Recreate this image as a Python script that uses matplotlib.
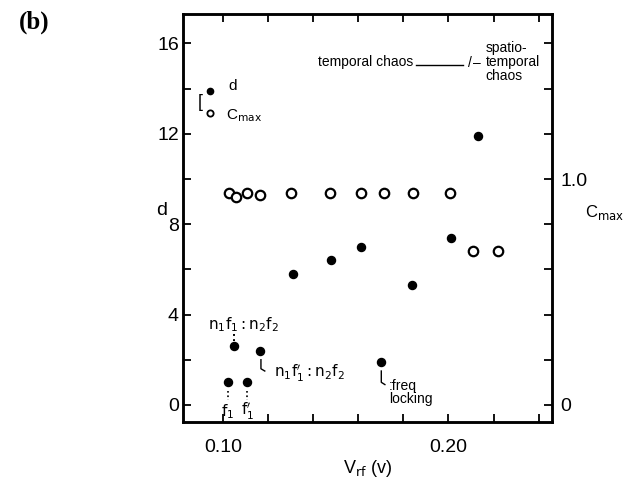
import matplotlib
matplotlib.use("Agg")
import matplotlib.pyplot as plt

# d (filled circles) vs V_rf
d_x = [0.102, 0.105, 0.1107, 0.1166, 0.131, 0.148, 0.161, 0.170, 0.184, 0.201, 0.213]
d_y = [1.0, 2.6, 1.0, 2.4, 5.8, 6.4, 7.0, 1.9, 5.3, 7.4, 11.9]

# Cmax (open circles) vs V_rf
cmax_x = [0.1027, 0.1058, 0.1107, 0.1164, 0.130, 0.1476, 0.161, 0.1716, 0.1844, 0.2009, 0.2107, 0.2218]
cmax_y = [0.94, 0.92, 0.94, 0.93, 0.94, 0.94, 0.94, 0.94, 0.94, 0.94, 0.68, 0.68]

x_ticks = [0.10, 0.20]
x_ticklabels = ["0.10", "0.20"]
d_ticks = [0, 4, 8, 12, 16]
c_ticks = [0, 1.0]
c_ticklabels = ["0", "1.0"]

plt.rcParams["font.family"] = ["Liberation Sans", "DejaVu Sans"]

fig = plt.figure(figsize=(6.42, 4.86), dpi=100)
ax = fig.add_axes([0.285, 0.132, 0.575, 0.839])
ax2 = ax.twinx()

ax.plot(d_x, d_y, "o", color="black", markersize=5.8, zorder=3)
ax2.plot(cmax_x, cmax_y, "o", mfc="white", mec="black", mew=1.6, markersize=6.8, zorder=3)

ax.set_xlim(0.0822, 0.246)
ax.set_ylim(-0.75, 17.3)
ax2.set_ylim(-0.075, 1.73)

ax.set_xticks(x_ticks)
ax.set_xticklabels(x_ticklabels)
ax.set_xticks([0.12, 0.14, 0.16, 0.18, 0.22, 0.24], minor=True)
ax.set_yticks(d_ticks)
ax.set_yticks([2, 6, 10, 14], minor=True)
ax2.set_yticks(c_ticks)
ax2.set_yticklabels(c_ticklabels)
ax2.set_yticks([0.2, 0.4, 0.6, 0.8, 1.2, 1.4, 1.6], minor=True)

for a in (ax, ax2):
    for s in a.spines.values():
        s.set_linewidth(1.8)
    a.tick_params(which="both", direction="in", width=1.3, labelsize=14)
    a.tick_params(which="major", length=6)
    a.tick_params(which="minor", length=6)
ax.tick_params(axis="x", which="both", top=True, pad=12)
ax.tick_params(axis="y", pad=3)
ax2.tick_params(axis="y", pad=6)

ax.set_xlabel(r"V$_{\rm rf}$ (v)", fontsize=13, labelpad=2)
fig.text(0.252, 0.567, "d", fontsize=14, ha="center", va="center")
fig.text(0.911, 0.563, r"C$_{\rm max}$", fontsize=12, ha="left", va="center")
fig.text(0.03, 0.955, "(b)", fontsize=18, family="Liberation Serif", fontweight="bold",
         ha="left", va="center")

# legend drawn by hand like in the original
ax.plot([0.0942], [13.9], "o", color="black", markersize=4.5)
ax.plot([0.0942], [12.9], "o", mfc="white", mec="black", mew=1.3, markersize=4.5)
ax.text(0.0898, 13.4, "[", fontsize=13, ha="center", va="center")
ax.text(0.1025, 14.1, "d", fontsize=11, ha="left", va="center")
ax.text(0.1015, 12.8, r"C$_{\rm max}$", fontsize=11, ha="left", va="center")

# regime labels
ax.text(0.1845, 15.2, "temporal chaos", fontsize=10, ha="right", va="center")
ax.plot([0.1855, 0.2065], [15.05, 15.05], color="black", lw=1)
ax.text(0.2095, 15.15, "/", fontsize=10, ha="center", va="center")
ax.text(0.2125, 15.15, "\u2013", fontsize=10, ha="center", va="center")
ax.text(0.2165, 15.2, "spatio-\ntemporal\nchaos", fontsize=10, ha="left", va="center",
        linespacing=1.0)

# annotations
ax.text(0.0933, 3.55, r"$\mathrm{n_1f_1 : n_2f_2}$", fontsize=11, ha="left", va="center")
ax.plot([0.105, 0.105], [3.15, 2.85], ls=":", color="black", lw=1.4)
ax.plot([0.1168, 0.1168, 0.1185], [2.0, 1.6, 1.5], color="black", lw=1)
ax.text(0.1225, 1.4, r"$\mathrm{n_1f_1' : n_2f_2}$", fontsize=11, ha="left", va="center")
ax.plot([0.1702, 0.1702, 0.1718], [1.5, 1.0, 0.9], color="black", lw=1)
ax.text(0.1735, 0.55, ":freq\nlocking", fontsize=10, ha="left", va="center", linespacing=0.95)
ax.plot([0.102, 0.102], [0.6, 0.2], ls=":", color="black", lw=1.2)
ax.plot([0.1107, 0.1107], [0.6, 0.2], ls=":", color="black", lw=1.2)
ax.text(0.102, -0.3, r"$\mathrm{f_1}$", fontsize=11, ha="center", va="center")
ax.text(0.1107, -0.3, r"$\mathrm{f_1'}$", fontsize=11, ha="center", va="center")

fig.savefig("out.png", dpi=100)
